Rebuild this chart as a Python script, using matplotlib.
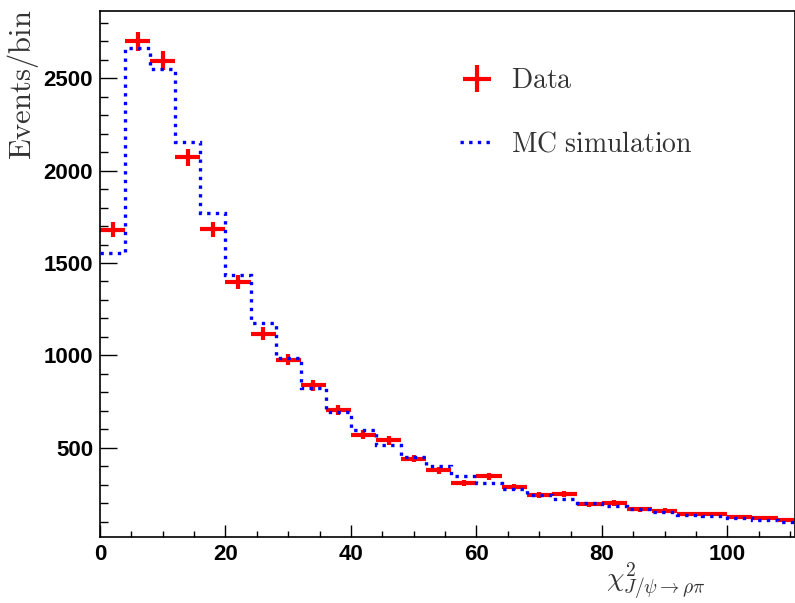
import matplotlib
matplotlib.use('Agg')
import matplotlib.pyplot as plt
import numpy as np
from matplotlib.ticker import MultipleLocator

plt.rcParams['mathtext.fontset'] = 'cm'

# bin edges of width 4, chi2 from 0 upwards
bin_edges = np.arange(0, 116, 4)
data_counts = [1680, 2700, 2595, 2072, 1683, 1396, 1118, 977, 838, 702,
               571, 540, 441, 377, 308, 346, 287, 245, 249, 193,
               200, 166, 159, 142, 142, 124, 121, 106]
mc_counts = [1552, 2666, 2551, 2153, 1772, 1434, 1176, 983, 825, 695,
             594, 516, 449, 401, 346, 307, 274, 245, 222, 200,
             182, 168, 151, 137, 128, 119, 110, 99]

centers = (bin_edges[:-1] + bin_edges[1:]) / 2
half_width = (bin_edges[1:] - bin_edges[:-1]) / 2
data_err = np.sqrt(data_counts)

fig = plt.figure(figsize=(7.95, 6.03), dpi=100)
ax = fig.add_axes([100/795, 1 - 536.7/603, 694.5/795, 526/603])

data_handle = ax.errorbar(centers, data_counts, xerr=half_width, yerr=data_err,
                          fmt='none', ecolor='#ff0000', elinewidth=3, capsize=0,
                          label='Data', zorder=2)
mc_handle = ax.stairs(mc_counts, bin_edges, baseline=None, color='#0000ff',
                      linewidth=2.4, linestyle=(0, (1, 1.6)),
                      label='MC simulation', zorder=3)

ax.set_xlim(0, 110.7)
ax.set_ylim(18, 2866)

ax.xaxis.set_major_locator(MultipleLocator(20))
ax.xaxis.set_minor_locator(MultipleLocator(5))
ax.yaxis.set_major_locator(MultipleLocator(500))
ax.yaxis.set_minor_locator(MultipleLocator(100))
ax.tick_params(axis='both', which='both', direction='in', width=1, pad=5)
ax.tick_params(axis='y', which='major', length=12)
ax.tick_params(axis='y', which='minor', length=5.8)
ax.tick_params(axis='x', which='major', length=8.4)
ax.tick_params(axis='x', which='minor', length=4.3)
for lab in ax.get_xticklabels() + ax.get_yticklabels():
    lab.set_fontfamily('Liberation Sans')
    lab.set_fontweight('bold')
    lab.set_fontsize(16)
for sp in ax.spines.values():
    sp.set_linewidth(1.2)

fig.text(23/795, 1 - 10/603, r'$\mathrm{Events/bin}$', rotation=90,
         ha='center', va='top', fontsize=22, color='#333333')
fig.text(706/795, 1 - 601/603, r'$\chi^2_{J/\psi\to\rho\pi}$',
         ha='right', va='bottom', fontsize=20, color='#333333')

leg = ax.legend(handles=[data_handle, mc_handle], loc='upper left',
                bbox_to_anchor=(0.482, 0.94), frameon=False,
                handlelength=1.25, handletextpad=0.6, labelspacing=1.3,
                prop={'family': 'serif', 'size': 20})
for t in leg.get_texts():
    t.set_text(r'$\mathrm{' + t.get_text().replace(' ', r'\ ') + '}$')
    t.set_color('#333333')

fig.savefig('out.png', dpi=100)
